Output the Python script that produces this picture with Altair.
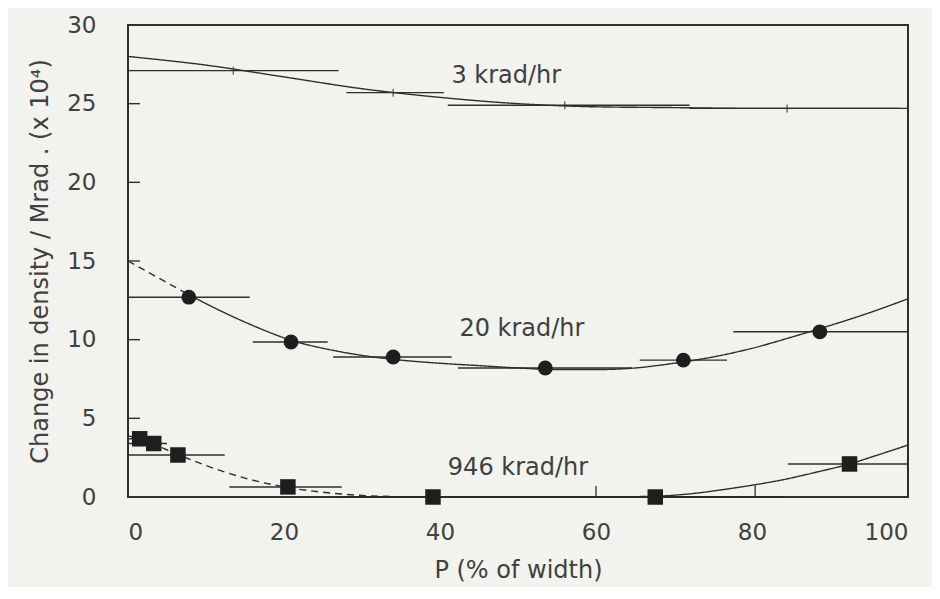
import altair as alt
import pandas as pd

# ---- 3 krad/hr ----
k3_x = [13.5, 34.0, 56.0, 84.5]
k3_y = [27.1, 25.7, 24.9, 24.7]
k3_lo = [0.0, 28.0, 41.0, 72.0]
k3_hi = [27.0, 40.5, 72.0, 99.0]
k3_curve_x = [0, 10, 20, 30, 40, 50, 60, 70, 80, 90, 100]
k3_curve_y = [28.0, 27.45, 26.7, 25.95, 25.4, 25.0, 24.8, 24.75, 24.7, 24.7, 24.7]

# ---- 20 krad/hr ----
k20_x = [7.8, 20.9, 34.0, 53.5, 71.2, 88.7]
k20_y = [12.7, 9.85, 8.9, 8.2, 8.7, 10.5]
k20_lo = [0.0, 16.0, 26.3, 42.3, 65.6, 77.6]
k20_hi = [15.6, 25.6, 41.5, 64.6, 76.8, 100.0]
k20_dash_x = [0, 4, 8]
k20_dash_y = [15.0, 13.9, 12.8]
k20_solid_x = [8, 12, 16, 21, 26, 30, 35, 40, 45, 50, 55, 60, 65, 70, 75, 80, 85, 90, 95, 100]
k20_solid_y = [12.8, 11.8, 10.9, 9.95, 9.35, 9.0, 8.7, 8.5, 8.35, 8.2, 8.1, 8.1, 8.2, 8.5, 8.9, 9.45, 10.15, 10.9, 11.7, 12.6]

# ---- 946 krad/hr ----
k946_x = [1.5, 3.3, 6.4, 20.5, 39.1, 67.6, 92.5]
k946_y = [3.7, 3.4, 2.67, 0.64, 0.0, 0.0, 2.1]
k946_lo = [0.0, 0.0, 0.0, 13.0, 27.5, 53.0, 84.6]
k946_hi = [3.0, 5.0, 12.4, 27.4, 53.0, 84.0, 100.0]
k946_dash_x = [0, 3, 6.4, 10, 15, 20.5, 25, 30, 35, 40]
k946_dash_y = [3.9, 3.4, 2.7, 2.0, 1.2, 0.6, 0.3, 0.1, 0.02, 0.0]
k946_solid_x = [40, 50, 60, 67.6, 72, 76, 80, 84, 88, 92.5, 96, 100]
k946_solid_y = [0.0, 0.0, 0.0, 0.05, 0.2, 0.45, 0.75, 1.1, 1.55, 2.1, 2.65, 3.3]
k946_tick_x = [60.0, 80.4]
k946_tick_top = [0.7, 0.75]

# ---- labels / axes ----
label_text = ["3 krad/hr", "20 krad/hr", "946 krad/hr"]
label_x = [48.5, 50.5, 50.0]
label_y = [26.75, 10.65, 1.85]
x_ticks = [0, 20, 40, 60, 80, 100]
y_ticks = [0, 5, 10, 15, 20, 25, 30]
y_inner_ticks = [5, 10, 15, 20, 25]

INK = "#2e2e2e"
TXT = "#404040"
FONT = "DejaVu Sans"

# build tables
curve_rows = []
def add_curve(name, style, xs, ys):
    for i, (a, b) in enumerate(zip(xs, ys)):
        curve_rows.append({"series": name + style, "style": style, "x": a, "y": b, "o": i})

add_curve("3", "solid", k3_curve_x, k3_curve_y)
add_curve("20", "dashed", k20_dash_x, k20_dash_y)
add_curve("20", "solid", k20_solid_x, k20_solid_y)
add_curve("946", "dashed", k946_dash_x, k946_dash_y)
add_curve("946", "solid", k946_solid_x, k946_solid_y)
curves = pd.DataFrame(curve_rows)

bars = pd.DataFrame({
    "y": k3_y + k20_y + k946_y,
    "lo": k3_lo + k20_lo + k946_lo,
    "hi": k3_hi + k20_hi + k946_hi,
})
k3_df = pd.DataFrame({"x": k3_x, "y": k3_y})
k20_df = pd.DataFrame({"x": k20_x, "y": k20_y})
k946_df = pd.DataFrame({"x": k946_x, "y": k946_y})
vt_df = pd.DataFrame({"x": k946_tick_x, "y": [0.0] * len(k946_tick_x), "y2": k946_tick_top})
lab_df = pd.DataFrame({"t": label_text, "x": label_x, "y": label_y})
yt_df = pd.DataFrame({"y": y_inner_ticks})

xscale = alt.Scale(domain=[0, 100], nice=False, zero=False)
yscale = alt.Scale(domain=[0, 30], nice=False)

X = alt.X("x:Q", scale=xscale, axis=alt.Axis(
    values=x_ticks, title="P (% of width)", labelPadding=24, titlePadding=14,
    ticks=False, domain=False, grid=False))
Y = alt.Y("y:Q", scale=yscale, axis=alt.Axis(
    values=y_ticks, title="Change in density / Mrad . (x 10⁴)", labelPadding=32,
    titlePadding=14, ticks=False, domain=False, grid=False))

line_layer = alt.Chart(curves).mark_line(color=INK, strokeWidth=1.4, interpolate="monotone").encode(
    x=X, y=Y, detail="series:N", order="o:Q",
    strokeDash=alt.StrokeDash("style:N", scale=alt.Scale(domain=["solid", "dashed"], range=[[1, 0], [7, 5]]), legend=None),
)

bar_layer = alt.Chart(bars).mark_rule(color=INK, strokeWidth=1.4).encode(
    x=alt.X("lo:Q", scale=xscale), x2="hi:Q", y=alt.Y("y:Q", scale=yscale)
)

k3_ticks = alt.Chart(k3_df).mark_tick(color=INK, orient="vertical", size=8, thickness=1.4).encode(
    x=alt.X("x:Q", scale=xscale), y=alt.Y("y:Q", scale=yscale)
)

vt_layer = alt.Chart(vt_df).mark_rule(color=INK, strokeWidth=1.3).encode(
    x=alt.X("x:Q", scale=xscale), y=alt.Y("y:Q", scale=yscale), y2="y2:Q"
)

circles = alt.Chart(k20_df).mark_point(shape="circle", filled=True, size=220, color="#1e1e1e", opacity=1).encode(
    x=alt.X("x:Q", scale=xscale), y=alt.Y("y:Q", scale=yscale)
)
squares = alt.Chart(k946_df).mark_point(shape="square", filled=True, size=240, color="#1e1e1e", opacity=1).encode(
    x=alt.X("x:Q", scale=xscale), y=alt.Y("y:Q", scale=yscale)
)

labels = alt.Chart(lab_df).mark_text(font=FONT, fontSize=24, color=TXT, align="center", baseline="middle").encode(
    x=alt.X("x:Q", scale=xscale), y=alt.Y("y:Q", scale=yscale), text="t:N"
)

inner_ticks = alt.Chart(yt_df).mark_rule(color=INK, strokeWidth=1.4).encode(
    x=alt.value(0), x2=alt.value(12), y=alt.Y("y:Q", scale=yscale)
)

chart = alt.layer(
    line_layer, bar_layer, k3_ticks, vt_layer, circles, squares, labels, inner_ticks
).properties(
    width=780, height=472,
    autosize=alt.AutoSizeParams(type="none"),
    padding={"left": 120, "top": 17, "right": 24, "bottom": 90},
    background="#f2f2ef",
).configure_view(
    stroke=INK, strokeWidth=2
).configure_axis(
    labelFont=FONT, titleFont=FONT, labelFontSize=23, titleFontSize=24,
    labelColor=TXT, titleColor=TXT, titleFontWeight="normal"
)

chart.save("out.html", embed_options={"renderer": "svg", "actions": False})
